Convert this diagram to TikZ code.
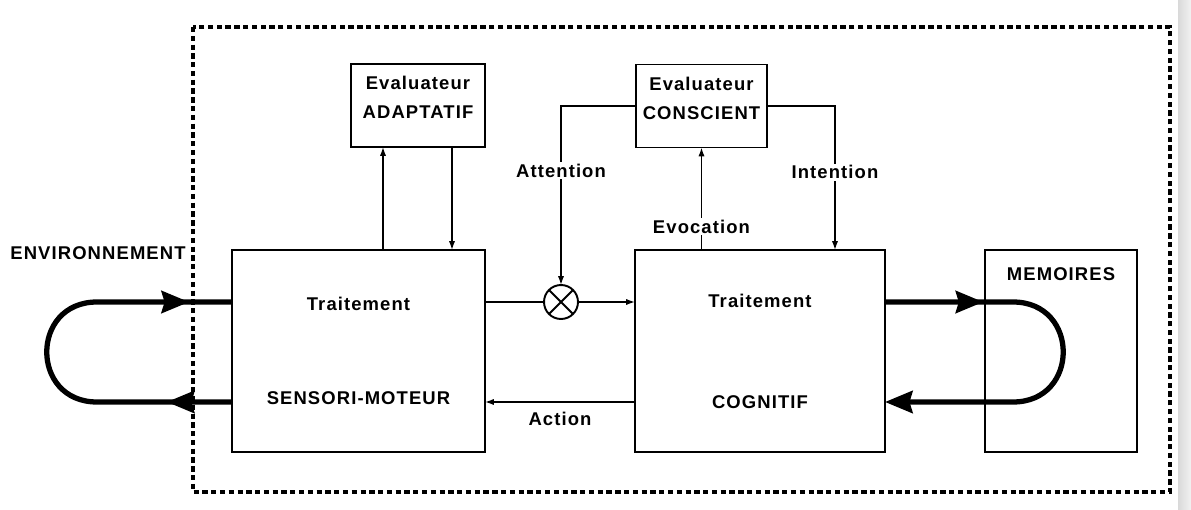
\documentclass[tikz,border=0pt]{standalone}
\usepackage{fontspec}
\newfontfamily\schemafont[LetterSpace=6]{Liberation Sans}
\usetikzlibrary{arrows.meta, decorations.markings, positioning, calc}
\tikzset{
    grosse/.tip={Stealth[length=0.55cm, width=0.44cm, inset=0.06cm]},
    bloc/.style={draw, line width=1.1pt, inner sep=0pt, outer sep=0pt, align=center,
        font=\schemafont\bfseries\fontsize{10.5}{12.5}\selectfont},
    texte/.style={font=\schemafont\bfseries\fontsize{10.5}{12.5}\selectfont, inner sep=1pt},
    fleche/.style={line width=0.8pt, -{Latex[length=5pt, width=3.5pt]}},
    lien/.style={line width=0.8pt},
    boucle/.style={line width=3pt, line join=round},
    cadre/.style={line width=1.8pt, dash pattern=on 3pt off 2pt},
    une fleche/.style={
        decoration={markings, mark=at position #1 with {\arrow{grosse}}},
        postaction={decorate}
    },
    deux fleches/.style 2 args={
        decoration={markings,
            mark=at position #1 with {\arrow{grosse}},
            mark=at position #2 with {\arrow{grosse}}
        },
        postaction={decorate}
    }
}

\begin{document}
\begin{tikzpicture}[x=0.02cm, y=-0.02cm]

\useasboundingbox (0,0) rectangle (1191,510);

% Bord gris du scan
\shade[left color=black!15, right color=black!5] (1178,0) rectangle (1191,510);

% Cadre pointillé
\draw[cadre] (193,27) rectangle (1170,492);

% Blocs principaux
\node[bloc, minimum width=5.06cm, minimum height=4.04cm] (sm) at (358.5,351) {Traitement\\[41pt]SENSORI-MOTEUR};
\node[bloc, minimum width=5.0cm, minimum height=4.04cm] (cog) at (760,351) {Traitement\\[45pt]COGNITIF};
\node[bloc, minimum width=3.04cm, minimum height=4.04cm] (mem) at (1061,351) {};
\node[texte, below=0.3cm of mem.north] (memtxt) {MEMOIRES};

% Evaluateurs
\node[bloc, minimum width=2.68cm, minimum height=1.66cm] (ada) at (418,105.5) {Evaluateur\\[4pt]ADAPTATIF\\[-3.5pt]\mbox{}};
\node[bloc, minimum width=2.62cm, minimum height=1.66cm] (con) at (701.5,106) {Evaluateur\\[4pt]CONSCIENT\\[-3.5pt]\mbox{}};

% Multiplicateur
\node[draw, circle, line width=1.1pt, minimum size=0.68cm, inner sep=0pt, outer sep=0pt] (mult) at (561,302) {};
\draw[line width=1.1pt] (mult.north west) -- (mult.south east) (mult.north east) -- (mult.south west);

\node[texte] (env) at (98,253) {ENVIRONNEMENT};

% Liaisons avec l'évaluateur adaptatif
\draw[fleche] ([xshift=-0.7cm]ada.south |- sm.north) -- ([xshift=-0.7cm]ada.south);
\draw[fleche] ([xshift=0.68cm]ada.south) -- ([xshift=0.68cm]ada.south |- sm.north);

% Liaisons avec l'évaluateur conscient
\draw[fleche] (con.west) -| (mult.north) node[texte, fill=white, pos=0.68] (att) {Attention};
\draw[fleche] (con.east) -| ([xshift=1.5cm]cog.north) node[texte, fill=white, pos=0.73] (int) {Intention};
\draw[fleche] (cog.north -| con.south) -- (con.south) node[texte, fill=white, pos=0.23] (evo) {Evocation};

% Voie centrale
\draw[lien] (sm.east |- mult) -- (mult);
\draw[fleche] (mult) -- (cog.west |- mult);
\draw[fleche] ([yshift=-1.02cm]cog.west) -- ([yshift=-1.02cm]sm.east) node[texte, below=0.16cm, midway] (act) {Action};

% Boucles
\draw[boucle, deux fleches={0.152}{0.90}] ([yshift=-1.02cm]sm.west) -- (97,402)
    .. controls (30,402) and (30,302) .. (97,302) -- ([yshift=0.98cm]sm.west);
\draw[boucle, une fleche=0.237, -grosse] ([yshift=0.98cm]cog.east) -- (1013,302)
    .. controls (1080,302) and (1080,402) .. (1013,402) -- ([yshift=-1.02cm]cog.east);

\end{tikzpicture}
\end{document}
